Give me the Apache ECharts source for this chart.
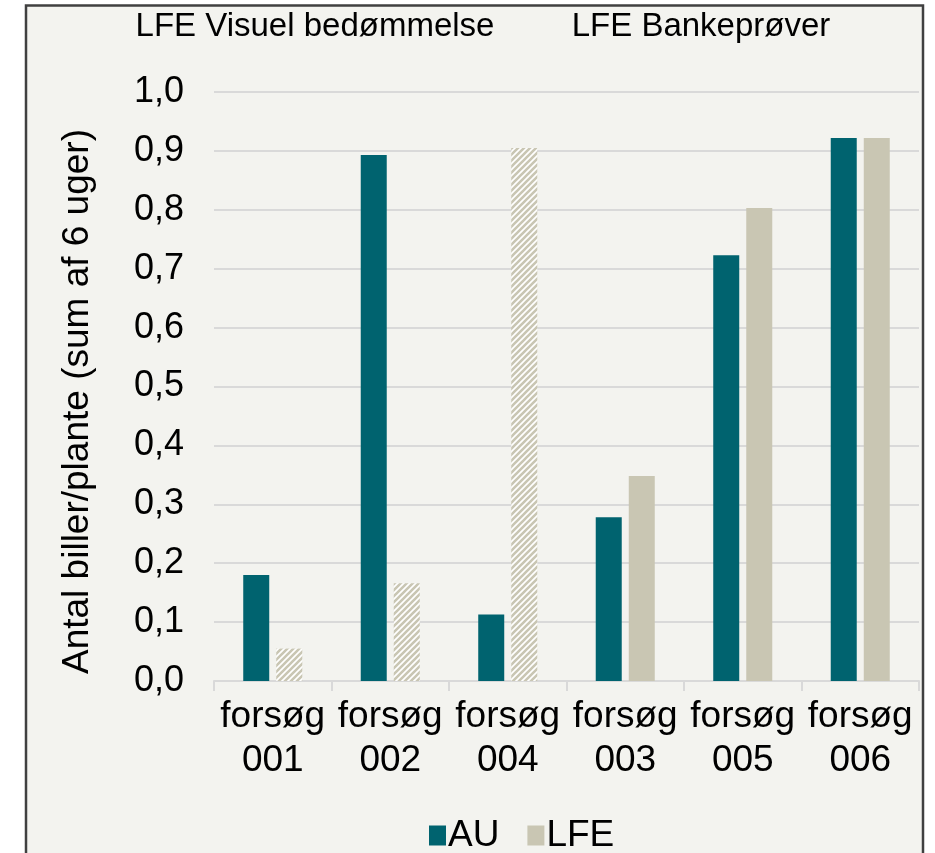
<!DOCTYPE html>
<html>
<head>
<meta charset="utf-8">
<script src="https://cdn.jsdelivr.net/npm/echarts@6/dist/echarts.min.js"></script>
<style>
html,body{margin:0;padding:0;background:#ffffff;}
#chart{width:935px;height:853px;}
</style>
</head>
<body>
<div id="chart"></div>
<script>
const categories = ['forsøg\n001', 'forsøg\n002', 'forsøg\n004', 'forsøg\n003', 'forsøg\n005', 'forsøg\n006'];
const auValues = [0.18, 0.893, 0.113, 0.278, 0.723, 0.922];
const lfeValues = [0.055, 0.166, 0.905, 0.348, 0.803, 0.922];
const lfeHatched = [true, true, true, false, false, false];
const yTicks = ['0,0','0,1','0,2','0,3','0,4','0,5','0,6','0,7','0,8','0,9','1,0'];
const groupLabels = ['LFE Visuel bedømmelse', 'LFE Bankeprøver'];
const seriesNames = ['AU', 'LFE'];

const AU_COLOR = '#00636f';
const LFE_COLOR = '#c9c6b3';
const FONT = '"Liberation Sans", Arial, sans-serif';

function makeHatch() {
  const c = document.createElement('canvas');
  const s = 6;
  c.width = s; c.height = s;
  const ctx = c.getContext('2d');
  ctx.fillStyle = '#ffffff';
  ctx.fillRect(0, 0, s, s);
  ctx.strokeStyle = LFE_COLOR;
  ctx.lineWidth = 2.6;
  ctx.beginPath();
  ctx.moveTo(-s, s * 2); ctx.lineTo(s * 2, -s);
  ctx.moveTo(-s, s); ctx.lineTo(s, -s);
  ctx.moveTo(0, s * 2); ctx.lineTo(s * 2, 0);
  ctx.stroke();
  return c;
}
const hatch = { image: makeHatch(), repeat: 'repeat' };

const chart = echarts.init(document.getElementById('chart'), null, { renderer: 'canvas' });
chart.setOption({
  backgroundColor: '#ffffff',
  animation: false,
  graphic: [
    { type: 'rect', z: -10, shape: { x: 26, y: 5.5, width: 897, height: 900 },
      style: { fill: '#f3f3ef', stroke: '#404040', lineWidth: 2.5 } },
    { type: 'text', x: 315, y: 27, style: { text: groupLabels[0], font: '33px ' + FONT, fill: '#000', align: 'center', verticalAlign: 'middle' } },
    { type: 'text', x: 701, y: 27, style: { text: groupLabels[1], font: '33px ' + FONT, fill: '#000', align: 'center', verticalAlign: 'middle' } }
  ],
  grid: { left: 214, right: 16, top: 92, bottom: 172 },
  legend: {
    top: 812, left: 424,
    data: seriesNames,
    icon: 'rect', itemWidth: 17, itemHeight: 20, itemGap: 28,
    textStyle: { fontFamily: FONT, fontSize: 37, color: '#000', padding: [0, 0, 0, -3] }
  },
  xAxis: {
    type: 'category',
    data: categories,
    axisLine: { lineStyle: { color: '#d9d9d9', width: 2 } },
    axisTick: { show: true, length: 10, lineStyle: { color: '#d9d9d9', width: 2 } },
    axisLabel: { interval: 0, fontFamily: FONT, fontSize: 37, color: '#000', lineHeight: 44, margin: 14 }
  },
  yAxis: {
    type: 'value', min: 0, max: 1, interval: 0.1,
    name: 'Antal biller/plante (sum af 6 uger)',
    nameLocation: 'middle', nameGap: 118,
    nameTextStyle: { fontFamily: FONT, fontSize: 37, color: '#000', padding: [0, 30, 0, 0] },
    axisLine: { show: false }, axisTick: { show: false },
    splitLine: { lineStyle: { color: '#d9d9d9', width: 2 } },
    axisLabel: {
      fontFamily: FONT, fontSize: 36, color: '#000', margin: 30,
      formatter: (v) => yTicks[Math.round(v * 10)]
    }
  },
  series: [
    { name: seriesNames[0], type: 'bar', data: auValues, barWidth: 26, barGap: '27%',
      itemStyle: { color: AU_COLOR } },
    { name: seriesNames[1], type: 'bar', barWidth: 26, barGap: '27%',
      itemStyle: { color: LFE_COLOR },
      data: lfeValues.map((v, i) => lfeHatched[i] ? { value: v, itemStyle: { color: hatch } } : v) }
  ]
});
</script>
</body>
</html>
